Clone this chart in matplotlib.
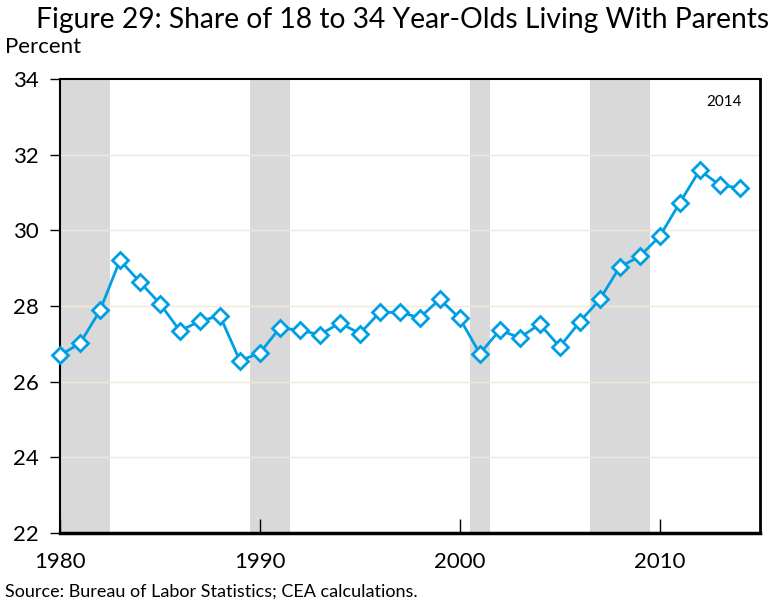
import matplotlib
matplotlib.use('Agg')
import matplotlib.pyplot as plt

plt.rcParams['font.family'] = ['Lato', 'DejaVu Sans']

# --- Data ---
years = list(range(1980, 2015))
share = [26.70, 27.01, 27.88, 29.21, 28.63, 28.06, 27.34, 27.60, 27.74, 26.55,
         26.76, 27.42, 27.36, 27.24, 27.55, 27.27, 27.83, 27.83, 27.69, 28.18,
         27.67, 26.74, 27.36, 27.16, 27.52, 26.92, 27.58, 28.17, 29.03, 29.31,
         29.84, 30.72, 31.59, 31.19, 31.12]

# recession years (first, last), shaded as whole years
rec_start = [1980, 1990, 2001, 2007]
rec_end = [1982, 1991, 2001, 2009]

yticks = [22, 24, 26, 28, 30, 32, 34]
xticks = [1980, 1990, 2000, 2010]

fig = plt.figure(figsize=(7.74, 6.04), dpi=100)
ax = fig.add_axes([0.0775, 0.1175, 0.904, 0.752])

for s, e in zip(rec_start, rec_end):
    ax.axvspan(s - 0.5, e + 0.5, color='#d9d9d9', lw=0, zorder=0)

for y in yticks[1:-1]:
    ax.axhline(y, color='#f2ead9', lw=1, zorder=1)

ax.plot(years, share, color='#009fe3', lw=2, marker='D', markersize=8,
        markerfacecolor='white', markeredgecolor='#009fe3', markeredgewidth=2,
        zorder=3, clip_on=False)

ax.set_xlim(1980, 2015)
ax.set_ylim(22, 34)
ax.set_yticks(yticks)
ax.set_xticks(xticks)
ax.tick_params(axis='y', direction='out', length=7, width=1, labelsize=16, pad=8)
ax.tick_params(axis='x', direction='in', length=10, width=1, labelsize=16, pad=14)
for sp in ax.spines.values():
    sp.set_color('black')
    sp.set_linewidth(1.5)
ax.spines['bottom'].set_linewidth(2.5)
ax.spines['right'].set_linewidth(2)

ax.text(0.975, 0.965, '2014', transform=ax.transAxes, ha='right', va='top', fontsize=11)

fig.text(0.52, 0.967, 'Figure 29: Share of 18 to 34 Year-Olds Living With Parents',
         ha='center', va='center', fontsize=20.3)
fig.text(0.006, 0.922, 'Percent', ha='left', va='center', fontsize=16)
fig.text(0.006, 0.02, 'Source: Bureau of Labor Statistics; CEA calculations.',
         ha='left', va='center', fontsize=13)

fig.savefig('out.png', dpi=100)
